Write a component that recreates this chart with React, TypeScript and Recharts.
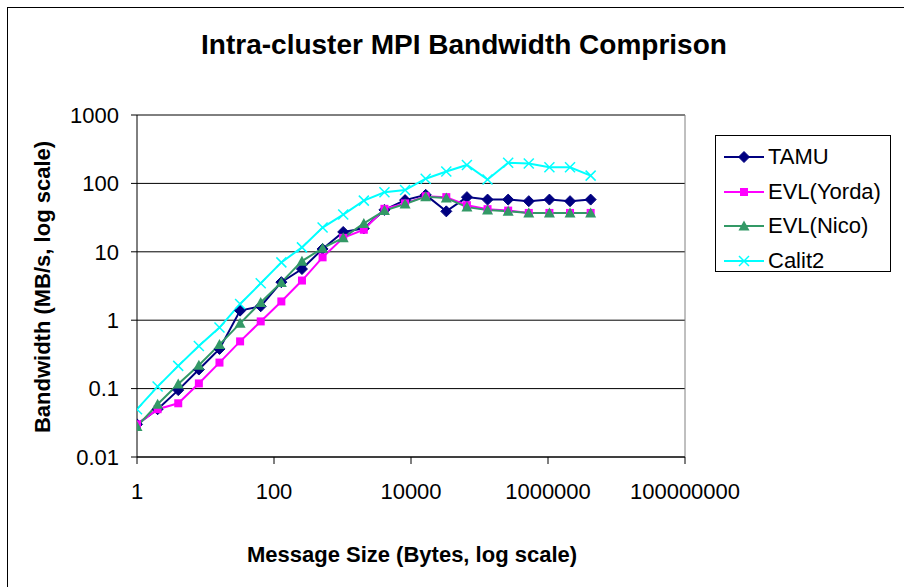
import { LineChart, Line, XAxis, YAxis, CartesianGrid, Legend, ReferenceLine } from 'recharts';

// message sizes in bytes
const sizes = [1, 2, 4, 8, 16, 32, 64, 128, 256, 512, 1024, 2048, 4096, 8192, 16384, 32768, 65536, 131072, 262144, 524288, 1048576, 2097152, 4194304];

const tamu = [0.03, 0.05, 0.095, 0.19, 0.38, 1.38, 1.6, 3.6, 5.6, 11, 19.5, 22, 41, 57, 68, 39, 63, 58, 58, 55, 58, 55, 58];
const evlYorda = [0.03, 0.05, 0.061, 0.119, 0.24, 0.49, 0.96, 1.88, 3.8, 8.3, 16, 21, 42.5, 51, 65, 63, 48, 42, 40, 37, 37, 37, 37];
const evlNico = [0.028, 0.059, 0.117, 0.22, 0.44, 0.9, 1.82, 3.57, 7.3, 11.3, 16, 26, 40, 50, 64, 61, 45, 41, 39, 37, 37, 37, 37];
const calit2 = [0.05, 0.107, 0.215, 0.42, 0.78, 1.73, 3.46, 7.0, 11.6, 22.6, 35, 56, 74, 80, 117, 149, 186, 114, 200, 195, 172, 172, 130];

const xTicks = [1, 100, 10000, 1000000, 100000000];
const yTicks = [0.01, 0.1, 1, 10, 100, 1000];

const data = sizes.map((s, i) => ({
  size: s,
  tamu: tamu[i],
  yorda: evlYorda[i],
  nico: evlNico[i],
  calit2: calit2[i],
}));

const FONT = '"Liberation Sans", Arial, sans-serif';

const Diamond = ({ cx, cy, color }: any) => (
  <path d={`M${cx},${cy - 5.5}L${cx + 5.5},${cy}L${cx},${cy + 5.5}L${cx - 5.5},${cy}Z`} fill={color} stroke={color} />
);
const Square = ({ cx, cy, color }: any) => (
  <rect x={cx - 4} y={cy - 4} width={8} height={8} fill={color} />
);
const Triangle = ({ cx, cy, color }: any) => (
  <path d={`M${cx},${cy - 5.5}L${cx + 5.5},${cy + 4.5}L${cx - 5.5},${cy + 4.5}Z`} fill={color} />
);
const Cross = ({ cx, cy, color }: any) => (
  <g stroke={color} strokeWidth={1.5}>
    <line x1={cx - 5} y1={cy - 5} x2={cx + 5} y2={cy + 5} />
    <line x1={cx - 5} y1={cy + 5} x2={cx + 5} y2={cy - 5} />
  </g>
);

const series = [
  { key: 'tamu', name: 'TAMU', color: '#000080', Shape: Diamond },
  { key: 'yorda', name: 'EVL(Yorda)', color: '#FF00FF', Shape: Square },
  { key: 'nico', name: 'EVL(Nico)', color: '#339966', Shape: Triangle },
  { key: 'calit2', name: 'Calit2', color: '#00FFFF', Shape: Cross },
];

const LegendBox = () => (
  <div style={{ border: '1px solid #000', width: 176, height: 137, boxSizing: 'border-box', background: '#fff', fontFamily: FONT, fontSize: 22, paddingTop: 4 }}>
    {series.map((s) => (
      <div key={s.key} style={{ display: 'flex', alignItems: 'center', height: 34.5 }}>
        <svg width={46} height={20} style={{ marginLeft: 6 }}>
          <line x1={2} y1={10} x2={42} y2={10} stroke={s.color} strokeWidth={2} />
          <s.Shape cx={22} cy={10} color={s.color} />
        </svg>
        <span>{s.name}</span>
      </div>
    ))}
  </div>
);

export default function App() {
  return (
    <div style={{ position: 'absolute', left: 0, top: 0, width: 904, height: 587, overflow: 'hidden', background: '#fff' }}>
      <div style={{ position: 'absolute', left: 7, top: 7, width: 920, height: 620, border: '1px solid #000' }} />
      <div style={{ position: 'absolute', left: 464, top: 45, transform: 'translate(-50%, -50%)', whiteSpace: 'nowrap', fontFamily: FONT, fontWeight: 'bold', fontSize: 28 }}>
        Intra-cluster MPI Bandwidth Comprison
      </div>
      <div style={{ position: 'absolute', left: 412, top: 555, transform: 'translate(-50%, -50%)', whiteSpace: 'nowrap', fontFamily: FONT, fontWeight: 'bold', fontSize: 22 }}>
        Message Size (Bytes, log scale)
      </div>
      <div style={{ position: 'absolute', left: 43, top: 287, transform: 'translate(-50%, -50%) rotate(-90deg)', whiteSpace: 'nowrap', fontFamily: FONT, fontWeight: 'bold', fontSize: 22 }}>
        Bandwidth (MB/s, log scale)
      </div>
      <LineChart width={904} height={587} data={data} margin={{ top: 115, right: 219, bottom: 70, left: 57 }} style={{ position: 'absolute', left: 0, top: 0 }}>
        <CartesianGrid vertical={false} stroke="#000" />
        <ReferenceLine y={1000} stroke="#808080" />
        <ReferenceLine x={100000000} stroke="#808080" />
        <XAxis
          dataKey="size"
          type="number"
          scale="log"
          domain={[1, 100000000]}
          ticks={xTicks}
          allowDataOverflow
          height={60}
          stroke="#000"
          tickSize={7}
          tickMargin={19}
          tick={{ fill: '#000', fontSize: 22, fontFamily: FONT }}
        />
        <YAxis
          type="number"
          scale="log"
          domain={[0.01, 1000]}
          ticks={yTicks}
          allowDataOverflow
          width={80}
          stroke="#000"
          tickSize={6}
          tickMargin={12}
          tick={{ fill: '#000', fontSize: 22, fontFamily: FONT }}
        />
        {series.map((s) => (
          <Line
            key={s.key}
            dataKey={s.key}
            name={s.name}
            type="linear"
            stroke={s.color}
            strokeWidth={2}
            isAnimationActive={false}
            dot={(p: any) => <s.Shape key={`${s.key}-${p.index}`} cx={p.cx} cy={p.cy} color={s.color} />}
          />
        ))}
        <Legend
          layout="vertical"
          align="center"
          verticalAlign="middle"
          wrapperStyle={{ left: 715, top: 135, width: 176 }}
          content={() => <LegendBox />}
        />
      </LineChart>
    </div>
  );
}
